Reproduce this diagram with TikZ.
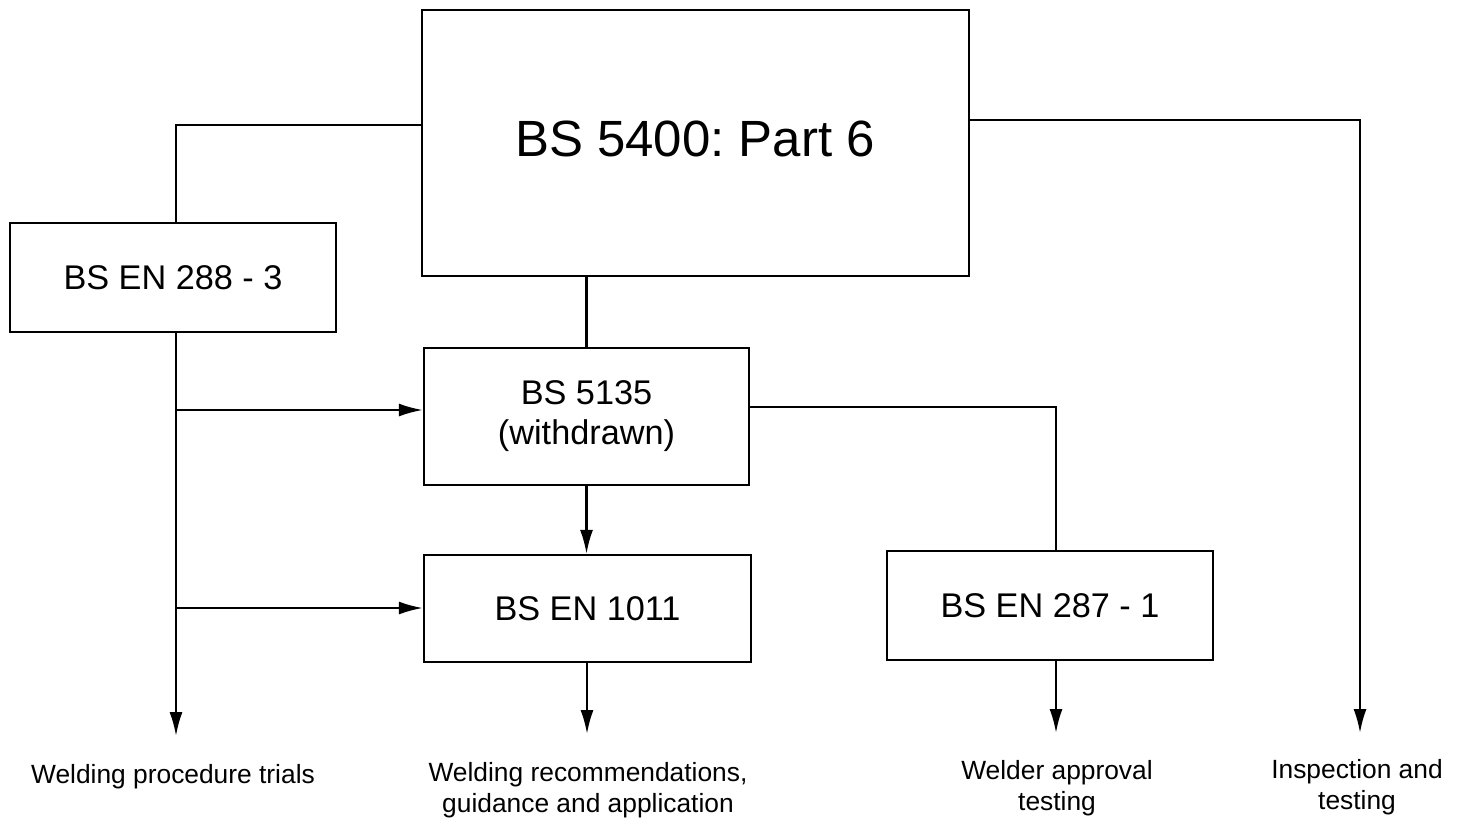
\documentclass[tikz,border=0pt]{standalone}
\usepackage{fontspec}
\setmainfont{Liberation Sans}
\usetikzlibrary{arrows.meta}
\frenchspacing

\tikzset{
    stdbox/.style={draw, line width=1.3pt, align=center, inner sep=0pt,
        font=\fontsize{19.5}{22.7}\selectfont},
    outtext/.style={align=center, font=\fontsize{15}{17.6}\selectfont},
    link/.style={line width=1.3pt},
}

\begin{document}
\begin{tikzpicture}[x=0.02cm, y=-0.02cm, >={Latex[length=4.8mm,width=2.6mm]}]
    \useasboundingbox (0,0) rectangle (1463,826);

    % 1. Các hộp tiêu chuẩn
    \node[stdbox, minimum width=547*0.02cm, minimum height=266*0.02cm] (part6) at (695.5,143) {};
    \node[font=\fontsize{29}{34}\selectfont] (part6txt) at (695,139) {BS 5400: Part 6};
    \node[stdbox, minimum width=326*0.02cm, minimum height=109*0.02cm] (en288) at (173,277.5) {BS EN 288 - 3};
    \node[stdbox, minimum width=325*0.02cm, minimum height=137*0.02cm] (bs5135) at (586.5,416.5) {BS 5135\\(withdrawn)};
    \node[stdbox, minimum width=327*0.02cm, minimum height=107*0.02cm] (en1011) at (587.5,608.5) {BS EN 1011};
    \node[stdbox, minimum width=326*0.02cm, minimum height=109*0.02cm] (en287) at (1050,605.5) {BS EN 287 - 1};

    % 2. Các dòng chữ kết quả
    \node[outtext] (trials) at (173,777) {Welding procedure trials};
    \node[outtext] (advice) at (588,790) {Welding recommendations,\\guidance and application};
    \node[outtext] (welder) at (1057,788) {Welder approval\\testing};
    \node[outtext] (inspect) at (1357,787) {Inspection and\\testing};

    % 3. Điểm phụ
    \coordinate (tLeft) at (176,125);
    \coordinate (tRight) at (1360,120);
    \coordinate (jTop) at (176,410);
    \coordinate (jBot) at (176,608);
    \coordinate (eTrials) at (176,736);
    \coordinate (eAdvice) at (587,734);
    \coordinate (eWelder) at (1056,733);
    \coordinate (eInspect) at (1360,733);
    \coordinate (r5135) at (1056,407);

    % 4. Các đường nối
    \draw[link] (part6.west |- tLeft) -- (tLeft) -- (tLeft |- en288.north);
    \draw[link, ->] (part6.east |- tRight) -- (tRight) -- (eInspect);
    \draw[link] (part6.south -| bs5135.north) -- (bs5135.north);
    \draw[link, ->] (en288.south -| eTrials) -- (eTrials);
    \draw[link, ->] (jTop) -- (bs5135.west |- jTop);
    \draw[link, ->] (jBot) -- (en1011.west |- jBot);
    \draw[link, ->] (bs5135.south) -- (en1011.north -| bs5135.south);
    \draw[link] (bs5135.east |- r5135) -- (r5135) -- (en287.north -| r5135);
    \draw[link, ->] (en1011.south -| eAdvice) -- (eAdvice);
    \draw[link, ->] (en287.south -| eWelder) -- (eWelder);
\end{tikzpicture}
\end{document}
